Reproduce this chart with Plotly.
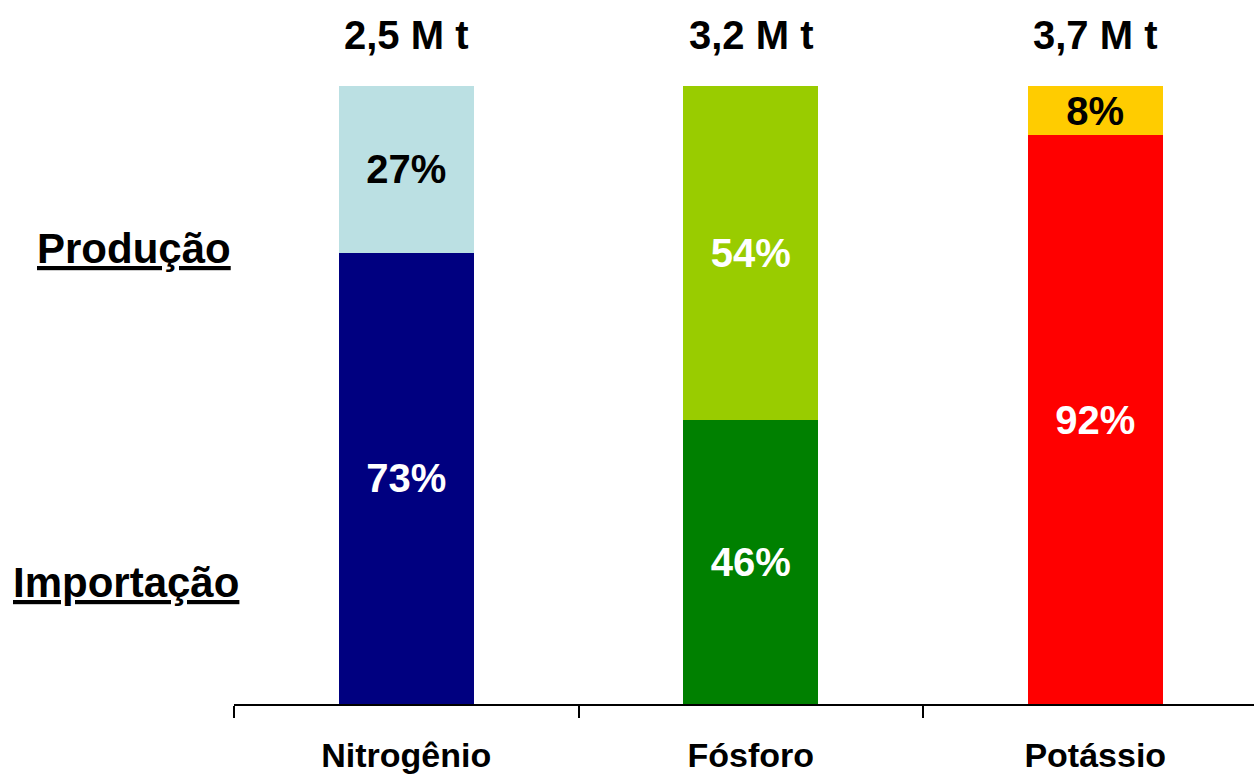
import plotly.graph_objects as go

categories = ["Nitrogênio", "Fósforo", "Potássio"]
importacao = [73, 46, 92]
producao = [27, 54, 8]
totais = [2.5, 3.2, 3.7]
cores_importacao = ["#000080", "#008000", "#FF0000"]
cores_producao = ["#BBE0E3", "#99CC00", "#FFCC00"]
texto_importacao_cor = ["white", "white", "white"]
texto_producao_cor = ["black", "white", "black"]

FONT = "Liberation Sans, Arial, sans-serif"

fig = go.Figure()
fig.add_trace(go.Bar(
    x=categories, y=importacao, name="Importação",
    marker=dict(color=cores_importacao, line=dict(width=0)),
    text=[f"{v}%" for v in importacao], textposition="inside",
    insidetextanchor="middle", constraintext="none",
    textfont=dict(family=FONT, size=40, color=texto_importacao_cor, weight="bold"),
    hoverinfo="skip",
))
fig.add_trace(go.Bar(
    x=categories, y=producao, name="Produção",
    marker=dict(color=cores_producao, line=dict(width=0)),
    text=[f"{v}%" for v in producao], textposition="inside",
    insidetextanchor="middle", constraintext="none",
    textfont=dict(family=FONT, size=40, color=texto_producao_cor, weight="bold"),
    hoverinfo="skip",
))

for c, t in zip(categories, totais):
    fig.add_annotation(
        x=c, xref="x", y=1.083, yref="paper", yanchor="middle",
        text=f"{t:.1f}".replace(".", ",") + "\u00a0M\u00a0t", showarrow=False,
        font=dict(family=FONT, size=40, color="black", weight="bold"),
    )

W, L = 1254, 234
plot_w = W - L
fig.add_annotation(
    x=(134 - L) / plot_w, xref="paper", y=(704 - 248) / 618, yref="paper",
    xanchor="center", yanchor="middle", text="Produção", showarrow=False,
    font=dict(family=FONT, size=42, color="black", weight="bold", lineposition="under"),
)
fig.add_annotation(
    x=(126 - L) / plot_w, xref="paper", y=(704 - 582) / 618, yref="paper",
    xanchor="center", yanchor="middle", text="Importação", showarrow=False,
    font=dict(family=FONT, size=42, color="black", weight="bold", lineposition="under"),
)

fig.update_layout(
    width=1254, height=775,
    margin=dict(l=234, r=0, t=86, b=71),
    barmode="stack", bargap=0.608,
    showlegend=False,
    plot_bgcolor="white", paper_bgcolor="white",
    xaxis=dict(
        range=[-0.5, -0.5 + plot_w / 344.5],
        showline=True, linecolor="black", linewidth=2,
        ticks="outside", tickson="boundaries", ticklen=12, tickwidth=2, tickcolor="black",
        showgrid=False, zeroline=False,
        tickfont=dict(family=FONT, size=34, color="black", weight="bold"),
        ticklabelstandoff=20,
    ),
    yaxis=dict(range=[0, 100], visible=False, showgrid=False, zeroline=False),
)

fig.write_html("out.html")
